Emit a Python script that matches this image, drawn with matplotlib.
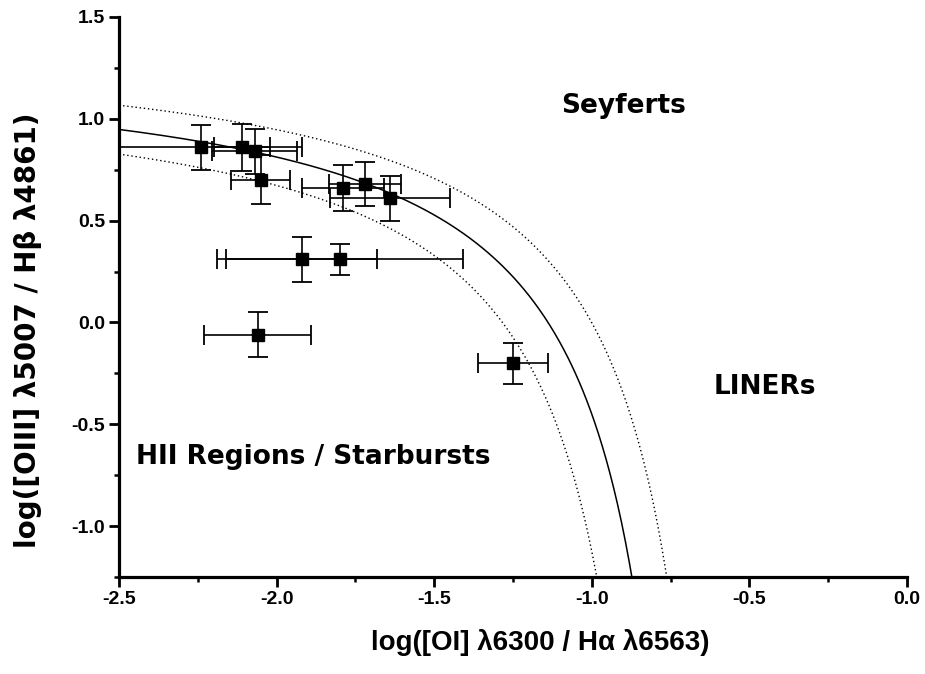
import numpy as np
import matplotlib
matplotlib.use('Agg')
import matplotlib.pyplot as plt

plt.rcParams['font.family'] = ['Liberation Sans', 'DejaVu Sans']
plt.rcParams['font.weight'] = 'bold'

# measured line ratios, log([OI]/Ha) and log([OIII]/Hb)
x_oi = [-2.24, -2.11, -2.07, -2.05, -1.79, -1.72, -1.64, -1.92, -1.80, -2.06, -1.25]
y_oiii = [0.86, 0.86, 0.84, 0.70, 0.66, 0.68, 0.61, 0.31, 0.31, -0.06, -0.20]
x_err = [0.32, 0.09, 0.135, 0.093, 0.13, 0.115, 0.19, 0.24, 0.39, 0.17, 0.11]
y_err = [0.11, 0.115, 0.11, 0.12, 0.115, 0.11, 0.11, 0.11, 0.075, 0.11, 0.10]

# Kewley et al. 2001 maximum starburst line (OI diagram) and +/-0.1 dex band
a, b, c = 0.73, 0.59, 1.33
band = 0.1

xmin, xmax = -2.5, 0.0
ymin, ymax = -1.25, 1.5


def kewley(shift):
    # curve shifted by +shift in x (toward the right) and in y
    bb = b - shift
    cc = c + shift
    x_end = a / (ymin - cc) - bb
    xs = np.linspace(xmin, x_end, 400)
    return xs, a / (xs + bb) + cc


fig = plt.figure(figsize=(9.25, 6.74), dpi=100)
ax = fig.add_axes([0.1286, 0.1439, 0.852, 0.8309])

xs, ys = kewley(0.0)
ax.plot(xs, ys, color='black', lw=1.1)
for s in (band, -band):
    xs, ys = kewley(s)
    ax.plot(xs, ys, color='black', lw=1.0, ls=(0, (1, 2)))

ax.errorbar(x_oi, y_oiii, xerr=x_err, yerr=y_err, fmt='s', color='black',
            ms=8, ecolor='black', elinewidth=1.2, capsize=7, capthick=1.3,
            clip_on=True)

wide = ['DejaVu Sans']
ax.text(-0.899, 1.027, 'Seyferts', fontsize=19, fontweight='bold', family=wide,
        ha='center', va='baseline')
ax.text(-0.45, -0.35, 'LINERs', fontsize=19, fontweight='bold', family=wide,
        ha='center', va='baseline')
ax.text(-2.446, -0.696, 'HII Regions / Starbursts', fontsize=19, fontweight='bold',
        family=wide, ha='left', va='baseline')

ax.set_xlim(xmin, xmax)
ax.set_ylim(ymin, ymax)
ax.set_xticks(np.arange(-2.5, 0.01, 0.5))
ax.set_yticks(np.arange(-1.0, 1.51, 0.5))
ax.set_xticks(np.arange(-2.25, 0.0, 0.5), minor=True)
ax.set_yticks(np.arange(-1.25, 1.5, 0.5), minor=True)
ax.set_xticklabels(['-2.5', '-2.0', '-1.5', '-1.0', '-0.5', '0.0'])
ax.set_yticklabels(['-1.0', '-0.5', '0.0', '0.5', '1.0', '1.5'])

for side in ('top', 'right'):
    ax.spines[side].set_visible(False)
for side in ('left', 'bottom'):
    ax.spines[side].set_linewidth(2.3)

ax.tick_params(which='major', direction='out', length=7, width=2, labelsize=14, pad=3)
ax.tick_params(which='minor', direction='out', length=3.5, width=1.8)
for lab in ax.get_xticklabels() + ax.get_yticklabels():
    lab.set_fontweight('bold')

ax.set_xlabel('log([OI] λ6300 / Hα λ6563)', fontsize=20, fontweight='bold')
ax.set_ylabel('log([OIII] λ5007 / Hβ λ4861)', fontsize=20, fontweight='bold',
              family=wide)
ax.xaxis.set_label_coords(0.534, -0.092)
ax.yaxis.set_label_coords(-0.098, 0.441)

fig.savefig('out.png', dpi=100)
